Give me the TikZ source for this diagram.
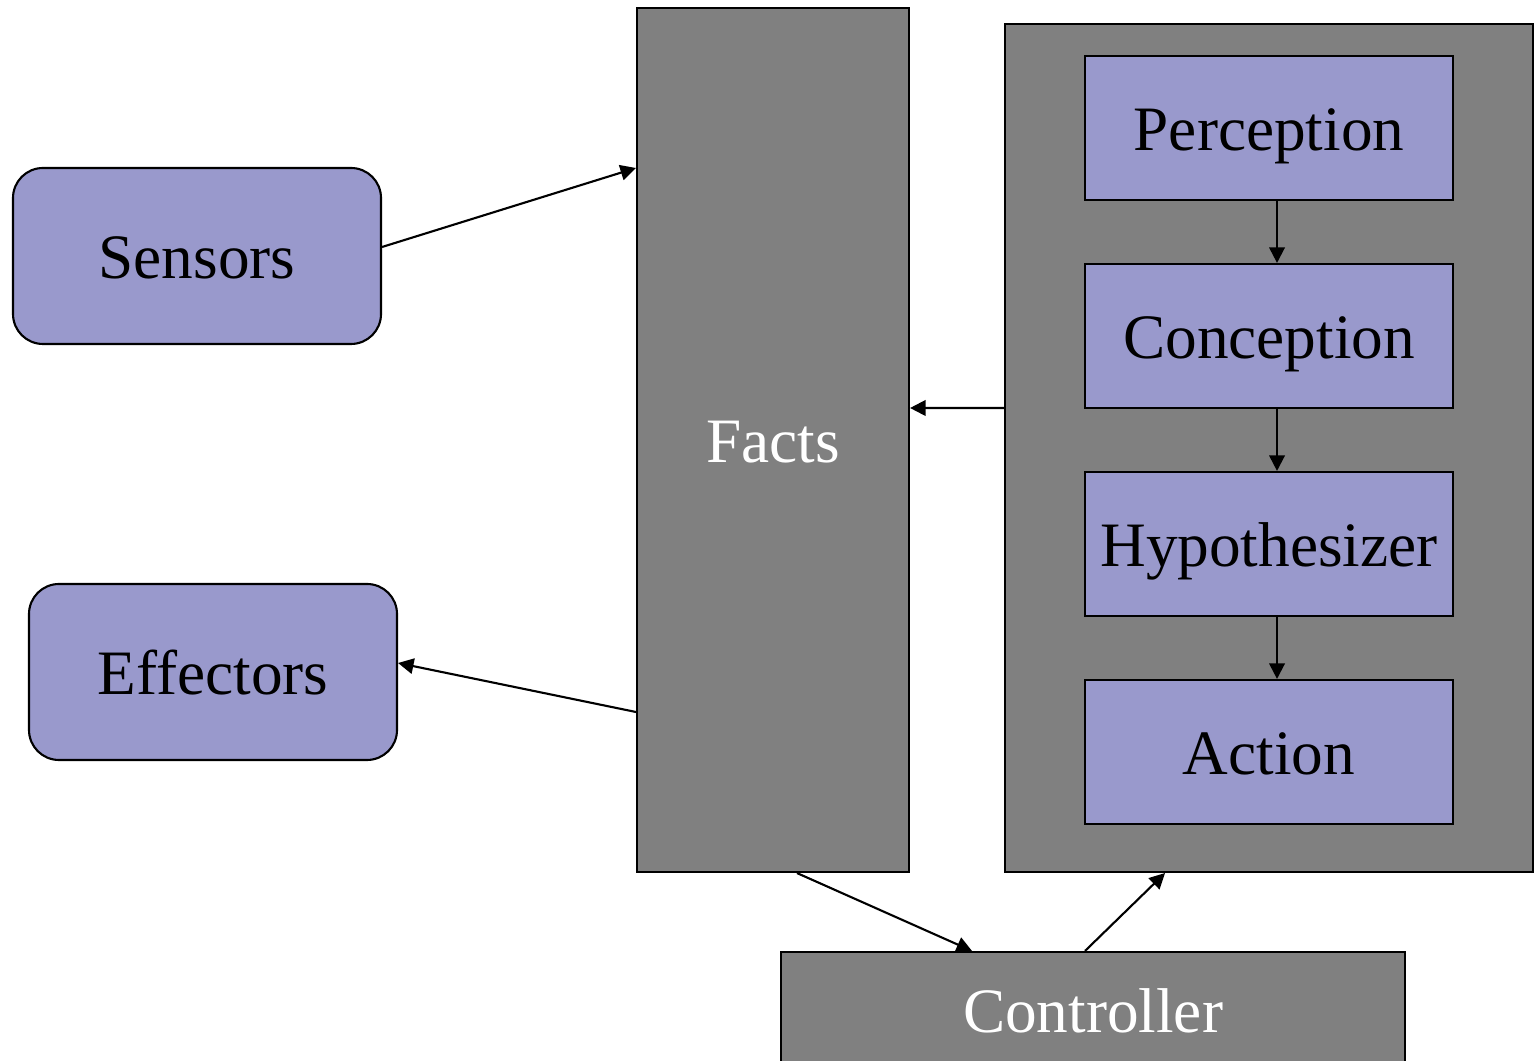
\documentclass[tikz,border=0pt]{standalone}
\usepackage{fontspec}
\setmainfont{Liberation Serif}
\usetikzlibrary{arrows.meta}
\definecolor{boxblue}{HTML}{9999CC}
\definecolor{boxgray}{HTML}{808080}

\begin{document}
\begin{tikzpicture}[
    font=\fontsize{18}{21}\selectfont,
    module/.style={draw, line width=0.6pt, fill=boxblue, minimum width=3.68cm, minimum height=1.44cm,
      inner sep=0pt, text height=12.6pt, text depth=0pt},
    device/.style={module, rounded corners=0.3cm, minimum height=1.76cm},
    store/.style={draw, line width=0.6pt, fill=boxgray, text=white, inner sep=0pt, text height=12.6pt, text depth=0pt},
    arr/.style={-{Triangle[length=4.4pt, width=4.4pt]}, line width=0.6pt}
  ]
  \clip (0, 0) rectangle (15.34, 10.6);
  \useasboundingbox (0, 0) rectangle (15.34, 10.6);

  \node[device] (sensors) at (1.97, 8.04) {Sensors};
  \node[device] (effectors) at (2.13, 3.88) {Effectors};
  \node[store, minimum width=2.72cm, minimum height=8.64cm] (facts) at (7.73, 6.20) {Facts};
  \node[store, minimum width=5.28cm, minimum height=8.48cm] (reasoner) at (12.69, 6.12) {};

  \node[module] (perception) at (12.69, 9.32) {Perception};
  \node[module] (conception) at (12.69, 7.24) {Conception};
  \node[module] (hypo) at (12.69, 5.16) {Hypothesizer};
  \node[module] (action) at (12.69, 3.08) {Action};

  \node[store, minimum width=6.24cm, minimum height=1.16cm] (controller) at (10.93, 0.50) {Controller};

  \draw[arr] ([xshift=0.8mm]perception.south) -- ([xshift=0.8mm]conception.north);
  \draw[arr] ([xshift=0.8mm]conception.south) -- ([xshift=0.8mm]hypo.north);
  \draw[arr] ([xshift=0.8mm]hypo.south) -- ([xshift=0.8mm]action.north);

  \draw[arr] ([yshift=0.9mm]sensors.east) -- ([yshift=27.2mm]facts.west);
  \draw[arr] ([yshift=-27.2mm]facts.west) -- ([yshift=0.9mm]effectors.east);
  \draw[arr] ([yshift=4mm]reasoner.west) -- ([yshift=3.2mm]facts.east);
  \draw[arr] ([xshift=2.4mm]facts.south) -- ([xshift=-12.1mm]controller.north);
  \draw[arr] ([xshift=-0.8mm]controller.north) -- ([xshift=-10.4mm]reasoner.south);
\end{tikzpicture}
\end{document}
